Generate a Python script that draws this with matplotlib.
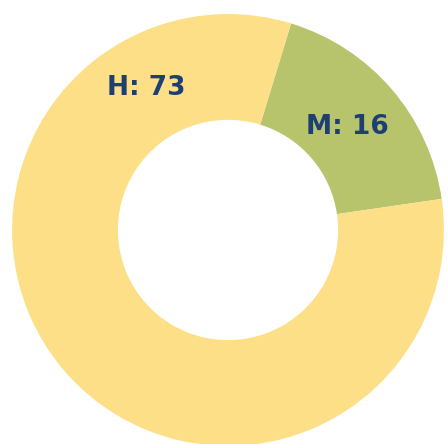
import matplotlib
matplotlib.use("Agg")
import matplotlib.pyplot as plt

labels = ["M", "H"]
values = [16, 73]
colors = ["#B8C46C", "#FDDF87"]

fig = plt.figure(figsize=(4.48, 4.44), dpi=100)
ax = fig.add_axes([0, 0, 1, 1])

wedges, _ = ax.pie(values, colors=colors, startangle=73, counterclock=False,
                   radius=1.0, wedgeprops=dict(width=0.49, linewidth=0))

# labels placed inside the ring
label_pos = {"H": (-0.377, 0.657), "M": (0.553, 0.477)}
for lab, val in zip(labels, values):
    x, y = label_pos[lab]
    ax.text(x, y, f"{lab}: {val}", ha="center", va="center",
            fontsize=19, fontweight="bold", family="DejaVu Sans", color="#1E3F73")

ax.set_xlim(-1.056, 1.019)
ax.set_ylim(-0.991, 1.065)
ax.set_aspect("auto")
ax.axis("off")

fig.savefig("out.png", dpi=100)
